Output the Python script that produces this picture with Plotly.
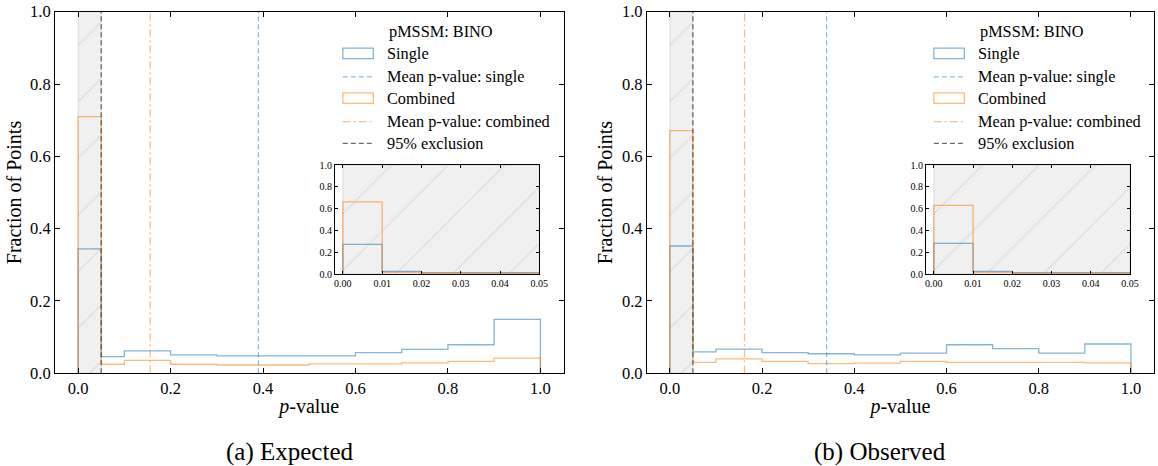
import plotly.graph_objects as go

# ---------------- data ----------------
EDGES = [0.0, 0.05, 0.1, 0.2, 0.3, 0.4, 0.5, 0.6, 0.7, 0.8, 0.9, 1.0]
EXP_SINGLE = [0.344, 0.046, 0.062, 0.051, 0.048, 0.048, 0.048, 0.057, 0.066, 0.079, 0.149]
EXP_COMBINED = [0.710, 0.025, 0.036, 0.025, 0.023, 0.023, 0.026, 0.026, 0.029, 0.033, 0.042]
OBS_SINGLE = [0.352, 0.059, 0.067, 0.057, 0.054, 0.051, 0.056, 0.079, 0.068, 0.056, 0.081]
OBS_COMBINED = [0.671, 0.030, 0.040, 0.033, 0.027, 0.028, 0.033, 0.030, 0.030, 0.030, 0.029]

INSET_EDGES = [0.0, 0.01, 0.02, 0.03, 0.04, 0.05]
EXP_INSET_SINGLE = [0.272, 0.025, 0.013, 0.013, 0.013]
EXP_INSET_COMBINED = [0.661, 0.015, 0.007, 0.006, 0.005]
OBS_INSET_SINGLE = [0.281, 0.025, 0.012, 0.012, 0.012]
OBS_INSET_COMBINED = [0.630, 0.015, 0.006, 0.006, 0.006]

EXP_MEAN_SINGLE = 0.390
EXP_MEAN_COMBINED = 0.156
OBS_MEAN_SINGLE = 0.340
OBS_MEAN_COMBINED = 0.162
EXCLUSION = 0.05

LEGEND_TITLE = "pMSSM: BINO"
LEGEND_LABELS = ["Single", "Mean p-value: single", "Combined",
                 "Mean p-value: combined", "95% exclusion"]
CAPTIONS = ["(a) Expected", "(b) Observed"]
MAIN_TICKS = [0.0, 0.2, 0.4, 0.6, 0.8, 1.0]
INSET_XTICKS = [0.0, 0.01, 0.02, 0.03, 0.04, 0.05]

# ---------------- styles ----------------
W, H = 1158, 466
FONT = "Liberation Serif, DejaVu Serif, serif"
BLUE = "rgba(31,119,180,0.55)"
ORANGE = "rgba(255,127,14,0.55)"
BLUE_MEAN = "rgba(31,119,180,0.5)"
ORANGE_MEAN = "rgba(255,127,14,0.5)"
GREY = "rgba(60,60,60,0.75)"
DASH = "5px,3px"
DASHDOT = "8px,3px,2px,3px"


def px_x(p):
    return p / W


def px_y(p):
    return 1 - p / H


def step_xy(edges, vals):
    xs = [edges[0]] + list(edges) + [edges[-1]]
    ys = [0] + list(vals) + [vals[-1], 0]
    return xs, ys


fig = go.Figure()


def add_hatch(xa, ya):
    fig.add_trace(go.Bar(
        x=[EXCLUSION / 2], y=[1.0], width=[EXCLUSION], xaxis=xa, yaxis=ya,
        marker=dict(color="#f0f0f0",
                    line=dict(color="rgba(160,160,160,0.5)", width=0.6),
                    pattern=dict(shape="/", fgcolor="#d2d2d2", bgcolor="#f0f0f0",
                                 size=40, solidity=0.04)),
        showlegend=False, hoverinfo="skip"))


def add_panel(xa, ya, single, combined, mean_s, mean_c):
    add_hatch(xa, ya)
    xs, ys = step_xy(EDGES, single)
    fig.add_trace(go.Scatter(x=xs, y=ys, mode="lines", line=dict(color=BLUE, width=1.3, shape="hv"),
                             xaxis=xa, yaxis=ya, showlegend=False))
    xs, ys = step_xy(EDGES, combined)
    fig.add_trace(go.Scatter(x=xs, y=ys, mode="lines", line=dict(color=ORANGE, width=1.3, shape="hv"),
                             xaxis=xa, yaxis=ya, showlegend=False))
    fig.add_trace(go.Scatter(x=[mean_s, mean_s], y=[0, 1], mode="lines",
                             line=dict(color=BLUE_MEAN, width=1.3, dash=DASH),
                             xaxis=xa, yaxis=ya, showlegend=False))
    fig.add_trace(go.Scatter(x=[mean_c, mean_c], y=[0, 1], mode="lines",
                             line=dict(color=ORANGE_MEAN, width=1.3, dash=DASHDOT),
                             xaxis=xa, yaxis=ya, showlegend=False))
    fig.add_trace(go.Scatter(x=[EXCLUSION, EXCLUSION], y=[0, 1], mode="lines",
                             line=dict(color=GREY, width=1.3, dash=DASH),
                             xaxis=xa, yaxis=ya, showlegend=False))


def add_inset(xa, ya, single, combined):
    add_hatch(xa, ya)
    xs, ys = step_xy(INSET_EDGES, single)
    fig.add_trace(go.Scatter(x=xs, y=ys, mode="lines", line=dict(color=BLUE, width=1.3, shape="hv"),
                             xaxis=xa, yaxis=ya, showlegend=False))
    xs, ys = step_xy(INSET_EDGES, combined)
    fig.add_trace(go.Scatter(x=xs, y=ys, mode="lines", line=dict(color=ORANGE, width=1.3, shape="hv"),
                             xaxis=xa, yaxis=ya, showlegend=False))


add_panel("x", "y", EXP_SINGLE, EXP_COMBINED, EXP_MEAN_SINGLE, EXP_MEAN_COMBINED)
add_panel("x2", "y2", OBS_SINGLE, OBS_COMBINED, OBS_MEAN_SINGLE, OBS_MEAN_COMBINED)
add_inset("x3", "y3", EXP_INSET_SINGLE, EXP_INSET_COMBINED)
add_inset("x4", "y4", OBS_INSET_SINGLE, OBS_INSET_COMBINED)

# ---------------- axes ----------------
main_common = dict(showline=True, linecolor="black", linewidth=1, mirror="ticks",
                   ticks="inside", ticklen=5, tickcolor="black", showgrid=False,
                   zeroline=False, automargin=False,
                   tickfont=dict(family=FONT, size=16.5, color="black"))
inset_common = dict(showline=True, linecolor="black", linewidth=1, mirror="ticks",
                    ticks="inside", ticklen=3, tickcolor="black", showgrid=False,
                    zeroline=False, automargin=False,
                    tickfont=dict(family=FONT, size=10, color="black"))

main_top, main_bot = 11.7, 373.3
inset_top, inset_bot = 165, 274
TITLE_FONT = dict(family=FONT, size=20)

layout = dict(
    width=W, height=H, margin=dict(l=0, r=0, t=0, b=0),
    paper_bgcolor="white", plot_bgcolor="white", showlegend=False,
    barmode="overlay",
    xaxis=dict(domain=[px_x(55), px_x(563.5)], range=[-0.05, 1.05], tickvals=MAIN_TICKS,
               tickformat=".1f", anchor="y",
               title=dict(text="<i>p</i>-value", font=TITLE_FONT, standoff=1),
               **main_common),
    yaxis=dict(domain=[px_y(main_bot), px_y(main_top)], range=[0, 1], tickvals=MAIN_TICKS,
               tickformat=".1f", anchor="x",
               title=dict(text="Fraction of Points", font=TITLE_FONT, standoff=3),
               **main_common),
    xaxis2=dict(domain=[px_x(646.8), px_x(1154)], range=[-0.05, 1.05], tickvals=MAIN_TICKS,
                tickformat=".1f", anchor="y2",
                title=dict(text="<i>p</i>-value", font=TITLE_FONT, standoff=1),
                **main_common),
    yaxis2=dict(domain=[px_y(main_bot), px_y(main_top)], range=[0, 1], tickvals=MAIN_TICKS,
                tickformat=".1f", anchor="x2",
                title=dict(text="Fraction of Points", font=TITLE_FONT, standoff=3),
                **main_common),
    xaxis3=dict(domain=[px_x(335), px_x(539.3)], range=[-0.002, 0.05], tickvals=INSET_XTICKS,
                tickformat=".2f", anchor="y3", **inset_common),
    yaxis3=dict(domain=[px_y(inset_bot), px_y(inset_top)], range=[0, 1], tickvals=MAIN_TICKS,
                tickformat=".1f", anchor="x3", **inset_common),
    xaxis4=dict(domain=[px_x(926), px_x(1130)], range=[-0.002, 0.05], tickvals=INSET_XTICKS,
                tickformat=".2f", anchor="y4", **inset_common),
    yaxis4=dict(domain=[px_y(inset_bot), px_y(inset_top)], range=[0, 1], tickvals=MAIN_TICKS,
                tickformat=".1f", anchor="x4", **inset_common),
)
fig.update_layout(**layout)

shapes = []
annotations = []

# inset grey backgrounds
for xa, ya in (("x3", "y3"), ("x4", "y4")):
    shapes.append(dict(type="rect", xref=f"{xa} domain", yref=f"{ya} domain",
                       x0=0, x1=1, y0=0, y1=1, fillcolor="#f0f0f0",
                       line=dict(width=0), layer="below"))

# legends (drawn relative to each main axis domain)
entry_y = [0.885, 0.820, 0.761, 0.696, 0.636]
hx0, hx1, tx = 0.566, 0.626, 0.649
hh = 0.0145
entry_styles = [("rect", BLUE, None), ("line", BLUE_MEAN, DASH), ("rect", ORANGE, None),
                ("line", ORANGE_MEAN, DASHDOT), ("line", GREY, DASH)]
for xa, ya in (("x", "y"), ("x2", "y2")):
    annotations.append(dict(xref=f"{xa} domain", yref=f"{ya} domain", x=0.759, y=0.944,
                            text=LEGEND_TITLE, showarrow=False, xanchor="center", yanchor="middle",
                            font=dict(family=FONT, size=16.3, color="black")))
    for (kind, col, dash), yy, label in zip(entry_styles, entry_y, LEGEND_LABELS):
        if kind == "rect":
            shapes.append(dict(type="rect", xref=f"{xa} domain", yref=f"{ya} domain",
                               x0=hx0, x1=hx1, y0=yy - hh, y1=yy + hh,
                               line=dict(color=col, width=1.3), fillcolor="rgba(0,0,0,0)"))
        else:
            shapes.append(dict(type="line", xref=f"{xa} domain", yref=f"{ya} domain",
                               x0=hx0, x1=hx1, y0=yy, y1=yy,
                               line=dict(color=col, width=1.3, dash=dash)))
        annotations.append(dict(xref=f"{xa} domain", yref=f"{ya} domain", x=tx, y=yy,
                                text=label, showarrow=False, xanchor="left", yanchor="middle",
                                font=dict(family=FONT, size=16.3, color="black")))

# captions
for cx, cap in zip((290, 880), CAPTIONS):
    annotations.append(dict(xref="paper", yref="paper", x=px_x(cx), y=px_y(452), text=cap,
                            showarrow=False, xanchor="center", yanchor="middle",
                            font=dict(family=FONT, size=25, color="black")))

fig.update_layout(shapes=shapes, annotations=annotations,
                  font=dict(family=FONT, color="black"))

fig.write_html("out.html", config={"displayModeBar": False},
               post_script="document.body.style.margin='0px';")
